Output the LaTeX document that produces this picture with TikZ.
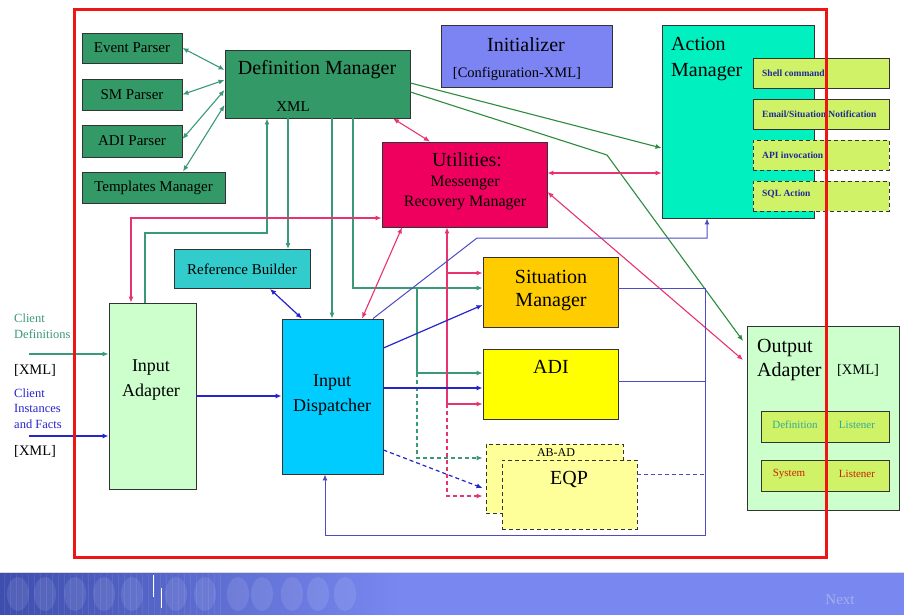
\documentclass[tikz,border=0pt]{standalone}
\usepackage{fontspec}
\setmainfont{Liberation Serif}
\usetikzlibrary{arrows.meta,calc}
\definecolor{dmgreen}{HTML}{339966}
\definecolor{initblue}{HTML}{7B84F2}
\definecolor{amcyan}{HTML}{00F0C0}
\definecolor{subyg}{HTML}{CFF266}
\definecolor{utpink}{HTML}{F0005E}
\definecolor{rbteal}{HTML}{33CCCC}
\definecolor{lgreen}{HTML}{CCFFCC}
\definecolor{idblue}{HTML}{00CCFF}
\definecolor{smorange}{HTML}{FFCC00}
\definecolor{adiyellow}{HTML}{FFFF00}
\definecolor{paleyellow}{HTML}{FFFF99}
\definecolor{lgline}{HTML}{3A9A78}
\definecolor{dgline}{HTML}{2E8B3E}
\definecolor{pinkline}{HTML}{E8336F}
\definecolor{blueline}{HTML}{2424D0}
\definecolor{slateline}{HTML}{4C4CC4}
\definecolor{framered}{HTML}{EE1515}
\definecolor{navytext}{HTML}{1F2A99}
\definecolor{tealtext}{HTML}{33AA99}
\definecolor{redtext}{HTML}{CC2200}
\definecolor{bannerblue}{HTML}{7888F0}
\definecolor{bannerdark}{HTML}{3E4EAE}
\tikzset{
  box/.style={draw=black!80, line width=0.9pt, inner sep=0pt},
  dbox/.style={box, dash pattern=on 4pt off 3pt},
  txt/.style={inner sep=0pt, align=center},
  tA/.style={txt, font=\fontsize{20}{22}\selectfont},
  tB/.style={txt, font=\fontsize{18}{20}\selectfont},
  tC/.style={txt, font=\fontsize{16}{18}\selectfont},
  tD/.style={txt, font=\fontsize{15}{17}\selectfont},
  tE/.style={txt, font=\fontsize{14.5}{16}\selectfont},
  tF/.style={txt, font=\fontsize{11}{15.5}\selectfont},
  tH/.style={txt, font=\fontsize{12.5}{15.5}\selectfont},
  tG/.style={txt, font=\bfseries\fontsize{9.5}{11}\selectfont, text=navytext},
  lg/.style={draw=lgline, line width=1.1pt},
  dg/.style={draw=dgline, line width=1.1pt},
  pk/.style={draw=pinkline, line width=1.1pt},
  bl/.style={draw=blueline, line width=1.2pt},
  sl/.style={draw=slateline, line width=1pt},
  dsh/.style={dash pattern=on 4pt off 3pt}
}
\begin{document}
\begin{tikzpicture}[x=1pt, y=-1pt, >={Latex[length=6pt,width=5pt]}]
\useasboundingbox (0,0) rectangle (904,614);
\fill[white] (0,0) rectangle (904,614);

% banner
\fill[bannerblue] (0,572) rectangle (906,616);
\shade[left color=bannerdark, right color=bannerblue] (0,573) rectangle (400,616);
\foreach \x in {18,45,75,104,132,176,205,238,262,292,318,345} {
  \fill[white, opacity=0.10] (\x,594) ellipse (11pt and 17pt);
}
\foreach \x in {4,10,...,220} {
  \draw[white, opacity=0.08, line width=0.6pt] (\x,574) -- (\x,616);
}
\draw[white, line width=1pt] (153,575) -- (153,597);
\draw[white, line width=1pt] (161,588) -- (161,608);
\draw[black!15!white, line width=1.2pt] (0,572.5) -- (906,572.5);
\node[txt, font=\fontsize{15}{17}\selectfont, text=black!10!bannerblue!60!white] (next) at (840,600) {Next};

% boxes
\node[box, fill=dmgreen, minimum width=100pt, minimum height=30pt, tD] (ep) at (132,48) {Event Parser};
\node[box, fill=dmgreen, minimum width=100pt, minimum height=31pt, tD] (smp) at (132,94.5) {SM Parser};
\node[box, fill=dmgreen, minimum width=100pt, minimum height=32pt, tD] (adip) at (132,141) {ADI Parser};
\node[box, fill=dmgreen, minimum width=143pt, minimum height=31pt, tD] (tm) at (153.5,187.5) {Templates Manager};
\node[box, fill=dmgreen, minimum width=185pt, minimum height=68pt] (dm) at (317.5,84) {};
\node[tA] (dmt) at (317,70) {Definition Manager};
\node[tD] (dmx) at (293,107) {XML};

\node[box, fill=initblue, minimum width=171pt, minimum height=62pt] (init) at (526.5,56) {};
\node[tA] (it1) at (526,45) {Initializer};
\node[tE] (it2) at (517,74) {[Configuration-XML]};

\node[box, fill=amcyan, minimum width=152pt, minimum height=193pt] (am) at (738,121.5) {};
\node[tA, anchor=west] (am1) at (671,44) {Action};
\node[tA, anchor=west] (am2) at (671,72) {Manager};
\node[box, fill=subyg, minimum width=136pt, minimum height=30pt] (sc) at (821,73) {};
\node[tG, anchor=west] (sct) at (762,73) {Shell command};
\node[box, fill=subyg, minimum width=136pt, minimum height=30pt] (es) at (821,114) {};
\node[tG, anchor=west] (est) at (762,114) {Email/Situation Notification};
\node[dbox, fill=subyg, minimum width=136pt, minimum height=30pt] (api) at (821,155) {};
\node[tG, anchor=west] (apit) at (762,155) {API invocation};
\node[dbox, fill=subyg, minimum width=136pt, minimum height=30pt] (sql) at (821,196) {};
\node[tG, anchor=west] (sqlt) at (762,194) {SQL Action};

\node[box, fill=utpink, minimum width=165pt, minimum height=85pt] (ut) at (464.5,184.5) {};
\node[tA] (ut1) at (467,160) {Utilities:};
\node[tC] (ut2) at (465,183) {Messenger};
\node[tC] (ut3) at (465,203) {Recovery Manager};

\node[box, fill=rbteal, minimum width=136pt, minimum height=39pt, tD] (rb) at (242,269) {Reference Builder};

\node[box, fill=lgreen, minimum width=87pt, minimum height=186pt] (ia) at (152.5,396) {};
\node[tB] (ia1) at (151,368) {Input};
\node[tB] (ia2) at (151,392) {Adapter};

\node[box, fill=idblue, minimum width=101pt, minimum height=155pt] (id) at (332.5,396.5) {};
\node[tB] (id1) at (332,383) {Input};
\node[tB] (id2) at (332,407) {Dispatcher};

\node[box, fill=smorange, minimum width=135pt, minimum height=70pt] (smg) at (550.5,292) {};
\node[tA] (sm1) at (551,277) {Situation};
\node[tA] (sm2) at (551,302) {Manager};

\node[box, fill=adiyellow, minimum width=135pt, minimum height=70pt] (adi) at (550.5,384) {};
\node[tA] (adit) at (551,367) {ADI};

\node[dbox, fill=paleyellow, minimum width=137pt, minimum height=69pt] (abad) at (554.5,478.5) {};
\node[txt, font=\fontsize{12}{14}\selectfont] (abadt) at (556,452.5) {AB-AD};
\node[dbox, fill=paleyellow, minimum width=135pt, minimum height=69pt] (eqp) at (569.5,494.5) {};
\node[tA] (eqpt) at (569,479) {EQP};

\node[box, fill=lgreen, minimum width=152pt, minimum height=184pt] (oa) at (823.5,418) {};
\node[tA, anchor=west] (oa1) at (757,348) {Output};
\node[tA, anchor=west] (oa2) at (757,372) {Adapter};
\node[tE] (oax) at (858,370) {[XML]};
\node[box, fill=subyg, minimum width=128pt, minimum height=31pt] (dl) at (825,426.5) {};
\node[tF, text=tealtext] (dl1) at (795,425) {Definition};
\node[tF, text=tealtext] (dl2) at (857,425) {Listener};
\node[box, fill=subyg, minimum width=128pt, minimum height=31pt] (sls) at (825,475.5) {};
\node[tF, text=redtext] (sl1) at (789,474) {System};
\node[tF, text=redtext] (sl2) at (857,474) {Listener};

% left labels
\node[tH, align=left, anchor=west, text=lgline] (cdef) at (14,326) {Client\\Definitions};
\node[tE, anchor=west] (x1) at (14,370) {[XML]};
\node[tH, align=left, anchor=west, text=blueline] (cins) at (14,408.5) {Client\\Instances\\and Facts};
\node[tE, anchor=west] (x2) at (14,451) {[XML]};
\coordinate (cd) at (29,354);
\coordinate (ci) at (29,436);

% light green connectors
\draw[lg,<->] (ep.east) -- (dm.west |- 0,70);
\draw[lg,<->] (smp.east) -- (dm.west |- 0,80);
\draw[lg,<->] (adip.east |- 0,139) -- (dm.west |- 0,90);
\draw[lg,<->] (tm.north -| 183,0) -- (dm.west |- 0,105);
\draw[lg,->] (ia.north -| 145,0) -- (145,233) -- (267,233) -- (dm.south -| 267,0);
\draw[lg,->] (dm.south -| 288,0) -- (rb.north -| 288,0);
\draw[lg,->] (dm.south -| 332,0) -- (id.north -| 332,0);
\draw[lg,->] (dm.south -| 353,0) |- (smg.west |- 0,288);
\draw[lg,->] (417,288) |- (adi.west |- 0,373);
\draw[lg,dsh,->] (417,373) |- ($(abad.west |- 0,458)+(-3,0)$);
\draw[lg,->] (cd) -- (ia.west |- cd);

% dark green connectors
\draw[dg,->] (dm.east |- 0,83) -- (am.west |- 0,148);
\draw[dg,->] (dm.east |- 0,92) -- (607,155) -- ($(oa.west |- 0,341)+(-4,0)$);

% pink connectors
\draw[pk,<->] (dm.south -| 393,0) -- (ut.north -| 430,0);
\draw[pk,<->] (ia.north -| 131,0) |- (ut.west |- 0,218);
\draw[pk,<->] (ut.east |- 0,173) -- (am.west |- 0,173);
\draw[pk,<->] (ut.south -| 402,0) -- (id.north -| 362,0);
\draw[pk,<->] (ut.east |- 0,192) -- ($(oa.west |- 0,360)+(-4,0)$);
\draw[pk,<-] (ut.south -| 447,0) -- (447,404);
\draw[pk,->] (447,273) -- (smg.west |- 0,273);
\draw[pk,->] (447,404) -- (adi.west |- 0,404);
\draw[pk,dsh,->] (447,404) |- ($(abad.west |- 0,496)+(-3,0)$);

% blue connectors
\draw[bl,->] (ci) -- (ia.west |- ci);
\draw[bl,->] (ia.east |- 0,396) -- (id.west |- 0,396);
\draw[bl,<->] (rb.south -| 270,0) -- (id.north -| 302,0);
\draw[bl,->] (id.east |- 0,348) -- (smg.west |- 0,305);
\draw[bl,->] (id.east |- 0,388) -- (adi.west |- 0,388);
\draw[bl,dsh,->] (id.east |- 0,450) -- ($(abad.west |- 0,488)+(-3,0)$);
\draw[sl,->] (id.north -| 373,0) -- (477,238) -| (am.south -| 707,0);
\draw[sl,->] (smg.east |- 0,288) -- (705,288) -- (705,535) -- (325,535) -- (id.south -| 325,0);
\draw[sl] (adi.east |- 0,381) -- (705,381);
\draw[sl,dsh] (eqp.east |- 0,474) -- (705,474);

% frame
\draw[framered, line width=3pt] (74,9) rectangle (826,557);
\end{tikzpicture}
\end{document}
